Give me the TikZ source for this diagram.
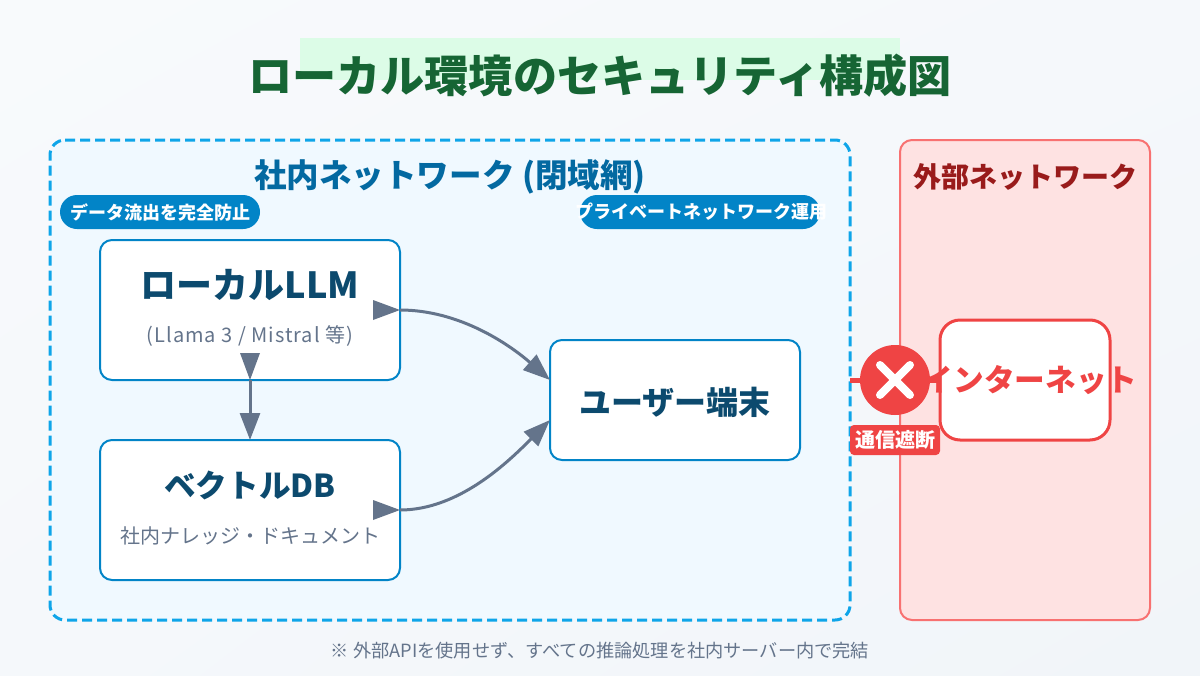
\documentclass[tikz,border=0pt]{standalone}
\usepackage{fontspec}
\setmainfont{Noto Sans CJK JP}
\usetikzlibrary{arrows.meta,calc,shadings}
\definecolor{bgA}{HTML}{F8FAFC}
\definecolor{bgB}{HTML}{F1F5F9}
\definecolor{bgM}{HTML}{F5F8FB}
\definecolor{hl}{HTML}{DCFCE7}
\definecolor{titlegreen}{HTML}{166534}
\definecolor{inFill}{HTML}{F0F9FF}
\definecolor{inLine}{HTML}{0EA5E9}
\definecolor{inText}{HTML}{0369A1}
\definecolor{badge}{HTML}{0284C7}
\definecolor{navy}{HTML}{0C4A6E}
\definecolor{slate}{HTML}{64748B}
\definecolor{exFill}{HTML}{FEE2E2}
\definecolor{exLine}{HTML}{F87171}
\definecolor{exText}{HTML}{991B1B}
\definecolor{redx}{HTML}{EF4444}
\newfontfamily\spacedfont[LetterSpace=5]{Noto Sans CJK JP}
\tikzset{
  x=0.75pt,y=-0.75pt,
  txt/.style={inner sep=0,outer sep=0,anchor=center,align=center},
  boxn/.style={draw=badge,line width=1.5pt,fill=white,rounded corners=9pt,inner sep=0,outer sep=0},
  head/.style={txt,text=navy,font=\bfseries\fontsize{#1}{#1}\selectfont},
  sub/.style={txt,text=slate,font=\fontsize{15}{15}\selectfont},
  badgebox/.style={fill=badge,rounded corners=12.75pt,inner sep=0,outer sep=0,minimum height=25.5pt},
  badgetxt/.style={txt,text=white,font=\bfseries\fontsize{13.5}{13.5}\selectfont},
  conn/.style={draw=slate,line width=2.25pt,-{Triangle[length=20.25pt,width=15pt,fill=slate]}},
  starttip/.style={fill=slate},
}
\begin{document}
\begin{tikzpicture}
\useasboundingbox (0,0) rectangle (1200,675);
\shade[upper left=bgA,upper right=bgM,lower left=bgM,lower right=bgB] (0,0) rectangle (1200,675);
% title
\fill[hl] (300,38) rectangle (900,80);
\node[txt,text=titlegreen,font=\bfseries\fontsize{33.1}{33.1}\selectfont] (title) at (600,76) {ローカル環境のセキュリティ構成図};
% zones
\node[fill=inFill,minimum width=600pt,minimum height=360pt,rounded corners=11.25pt,inner sep=0,outer sep=0] (inner) at (450,380) {};
\draw[inLine,line width=2.25pt,dash pattern=on 7.5pt off 3.75pt,rounded corners=11.25pt] ($(inner.north west)+(15,0)$) -- (inner.north east) -- (inner.south east) -- (inner.south west) -- (inner.north west) -- ($(inner.north west)+(15,0)$);
\node[draw=exLine,fill=exFill,line width=1.5pt,rounded corners=9pt,minimum width=187.5pt,minimum height=360pt,inner sep=0,outer sep=0] (outer) at (1025,380) {};
\node[txt,text=inText,font=\bfseries\fontsize{24.4}{24.4}\selectfont] (innerlabel) at (450,176.5) {社内ネットワーク (閉域網)};
\node[txt,text=exText,font=\bfseries\fontsize{21}{21}\selectfont] (outerlabel) at (1025,176.5) {外部ネットワーク};
% badges
\node[badgebox,minimum width=150pt] (b1) at (160,212) {};
\node[badgetxt] (b1t) at (160,212) {データ流出を完全防止};
\node[badgebox,minimum width=180pt] (b2) at (700,212) {};
\node[badgetxt] (b2t) at (701,212) {プライベートネットワーク運用};
% boxes
\node[boxn,minimum width=225pt,minimum height=105pt] (llm) at (250,310) {};
\node[boxn,minimum width=225pt,minimum height=105pt] (vec) at (250,510) {};
\node[boxn,minimum width=187.5pt,minimum height=90pt] (user) at (675,400) {};
\node[head=27] (llmt) at (250,285) {ローカルLLM};
\node[txt,text=slate,font=\spacedfont\fontsize{15}{15}\selectfont] (llms) at (250,336) {(Llama 3 / Mistral 等)};
\node[head=23.7] (vect) at (250,485.5) {ベクトルDB};
\node[sub] (vecs) at (250,535.5) {社内ナレッジ・ドキュメント};
\node[head=24] (usert) at (675,402) {ユーザー端末};
% connectors
\coordinate (u1) at (550,380);
\coordinate (u2) at (550,420);
\coordinate (llmR) at (400,310);
\coordinate (vecR) at (400,510);
\coordinate (llmB) at (250,380);
\coordinate (vecT) at (250,440);
\fill[starttip] (llmR) -- ++(-27,-10) -- ++(0,20) -- cycle;
\fill[starttip] (vecR) -- ++(-27,-10) -- ++(0,20) -- cycle;
\fill[starttip] (llmB) -- ++(-10,-27) -- ++(20,0) -- cycle;
\draw[conn] (llmB) -- (vecT);
\draw[conn] (llmR) .. controls (460,310) and (510,345) .. (u1);
\draw[conn] (vecR) .. controls (460,510) and (510,460) .. (u2);
% internet
\coordinate (cutL) at (850,380);
\node[draw=redx,line width=2.25pt,fill=white,rounded corners=15pt,minimum width=127.5pt,minimum height=90pt,inner sep=0,outer sep=0] (net) at (1025,380) {};
\draw[redx,line width=3.75pt] (cutL) -- (net.west);
\node[txt,text=redx,font=\bfseries\fontsize{23}{23}\selectfont] (nett) at (1030,380) {インターネット};
\node[circle,fill=redx,minimum size=52.5pt,inner sep=0,outer sep=0] (xc) at (895,380) {};
\draw[white,line width=6pt,line cap=round] (880,365) -- (910,395);
\draw[white,line width=6pt,line cap=round] (910,365) -- (880,395);
\node[fill=redx,rounded corners=3pt,minimum width=67.5pt,minimum height=22.5pt,inner sep=0,outer sep=0] (cutb) at (895,440) {};
\node[txt,text=white,font=\bfseries\fontsize{15}{15}\selectfont] (cutt) at (895,440) {通信遮断};
% footer
\node[txt,text=slate,font=\fontsize{13.65}{13.65}\selectfont] (foot) at (600,650.5) {※ 外部APIを使用せず、すべての推論処理を社内サーバー内で完結};
\end{tikzpicture}
\end{document}
